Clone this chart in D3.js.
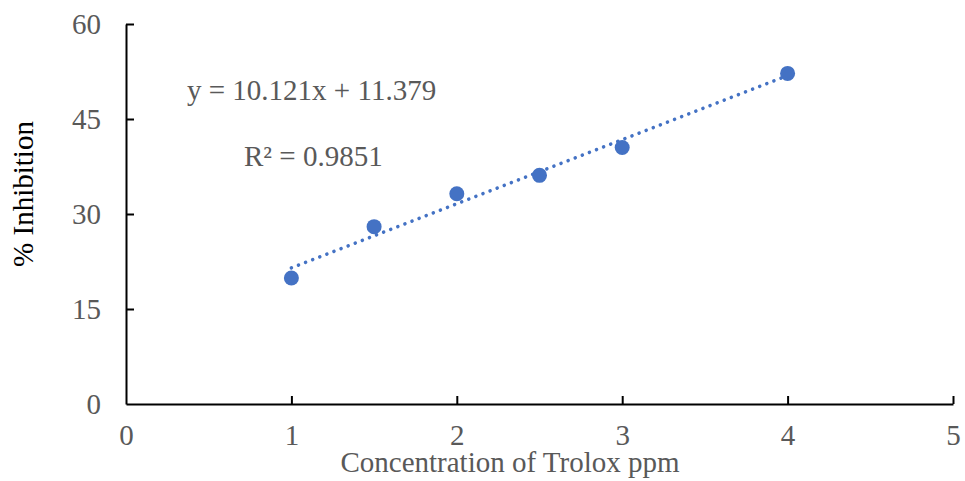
<!DOCTYPE html>
<html><head><meta charset="utf-8">
<script src="https://cdn.jsdelivr.net/npm/d3@7"></script>
<style>body{margin:0;background:#fff}svg{display:block}</style>
</head><body>
<script>
const xValues = [1, 1.5, 2, 2.5, 3, 4];
const yValues = [19.9, 28.0, 33.2, 36.1, 40.5, 52.2];
const xTicks = [0, 1, 2, 3, 4, 5];
const yTicks = [0, 15, 30, 45, 60];
const slope = 10.121, intercept = 11.379;
const eqText = "y = 10.121x + 11.379";
const r2Text = "R² = 0.9851";
const xTitle = "Concentration of Trolox ppm";
const yTitle = "% Inhibition";

const W = 965, H = 481;
const svg = d3.select("body").append("svg").attr("width", W).attr("height", H);
const x = d3.scaleLinear().domain([0, 5]).range([126, 953]);
const y = d3.scaleLinear().domain([0, 60]).range([404, 24]);
const font = "'Liberation Serif','Times New Roman',serif";
const fs = "29px";

const xa = svg.append("g").attr("transform", "translate(0,404)")
  .call(d3.axisBottom(x).tickValues(xTicks).tickSize(-8).tickSizeOuter(0).tickPadding(20).tickFormat(d3.format("d")));
const ya = svg.append("g").attr("transform", "translate(126,0)")
  .call(d3.axisLeft(y).tickValues(yTicks).tickSize(-8).tickSizeOuter(0).tickPadding(25).tickFormat(d3.format("d")));
[xa, ya].forEach(g => {
  g.select(".domain").attr("stroke", "#000").attr("stroke-width", 2);
  g.selectAll(".tick line").attr("stroke", "#000").attr("stroke-width", 2);
  g.selectAll(".tick text").attr("fill", "#595959").style("font-family", font).style("font-size", fs);
});
xa.selectAll(".tick line").filter(d => d === 0).remove();
ya.selectAll(".tick line").filter(d => d === 0).remove();

// trendline
const tx = [d3.min(xValues), d3.max(xValues)];
svg.append("line")
  .attr("x1", x(tx[0])).attr("y1", y(slope * tx[0] + intercept))
  .attr("x2", x(tx[1])).attr("y2", y(slope * tx[1] + intercept))
  .attr("stroke", "#4472C4").attr("stroke-width", 3.5)
  .attr("stroke-linecap", "round").attr("stroke-dasharray", "0.01 7.6");

svg.append("g").selectAll("circle").data(xValues).join("circle")
  .attr("cx", d => x(d)).attr("cy", (d, i) => y(yValues[i])).attr("r", 7.5)
  .attr("fill", "#4472C4");

svg.append("text").attr("x", 187).attr("y", 100).text(eqText)
  .attr("fill", "#595959").style("font-family", font).style("font-size", fs);
svg.append("text").attr("x", 244).attr("y", 166).text(r2Text)
  .attr("fill", "#595959").style("font-family", font).style("font-size", fs);

svg.append("text").attr("x", 510).attr("y", 472).attr("text-anchor", "middle").text(xTitle)
  .attr("fill", "#595959").style("font-family", font).style("font-size", fs);
svg.append("text").attr("transform", "translate(33,194) rotate(-90)").attr("text-anchor", "middle").text(yTitle)
  .attr("fill", "#000").style("font-family", font).style("font-size", fs);
</script>
</body></html>
